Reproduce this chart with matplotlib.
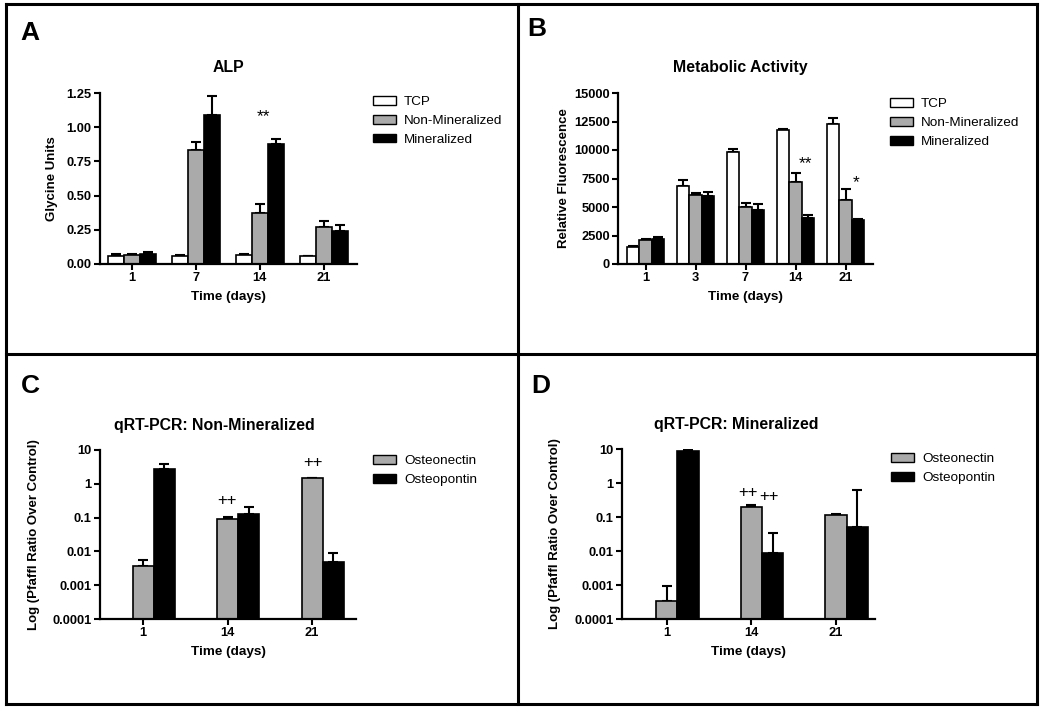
import matplotlib
matplotlib.use("Agg")
import matplotlib.pyplot as plt
import numpy as np
from matplotlib.patches import Patch
from matplotlib.lines import Line2D

plt.rcParams['font.family'] = ['Liberation Sans', 'DejaVu Sans']

# ---------------- data ----------------
alp_days = ["1", "7", "14", "21"]
alp_tcp = [0.060, 0.058, 0.063, 0.056]
alp_tcp_err = [0.012, 0.006, 0.012, 0.006]
alp_nonmin = [0.066, 0.835, 0.376, 0.268]
alp_nonmin_err = [0.004, 0.054, 0.066, 0.044]
alp_min = [0.071, 1.086, 0.879, 0.244]
alp_min_err = [0.014, 0.144, 0.037, 0.042]

met_days = ["1", "3", "7", "14", "21"]
met_tcp = [1490, 6870, 9795, 11725, 12310]
met_tcp_err = [120, 470, 290, 90, 500]
met_nonmin = [2076, 6050, 4970, 7164, 5585]
met_nonmin_err = [90, 180, 410, 790, 995]
met_min = [2220, 5965, 4766, 4064, 3889]
met_min_err = [150, 350, 530, 230, 90]

pcr_days = ["1", "14", "21"]
c_osteonectin = [0.0038, 0.089, 1.48]
c_osteonectin_err = [0.0018, 0.018, 0.0]
c_osteopontin = [2.7, 0.126, 0.005]
c_osteopontin_err = [1.1, 0.082, 0.0039]

d_osteonectin = [0.00035, 0.20, 0.117]
d_osteonectin_err = [0.00058, 0.03, 0.003]
d_osteopontin = [8.5, 0.0085, 0.051]
d_osteopontin_err = [1.2, 0.0255, 0.57]

log_ticks = [0.0001, 0.001, 0.01, 0.1, 1, 10]
log_tick_labels = ["0.0001", "0.001", "0.01", "0.1", "1", "10"]

GREY = '#aaaaaa'
W, H = 1050, 709
fig = plt.figure(figsize=(10.5, 7.09), dpi=100)


def ax_px(left, right, top, bottom):
    return fig.add_axes([left / W, 1 - bottom / H, (right - left) / W, (bottom - top) / H])


def style(ax):
    for s in ['top', 'right']:
        ax.spines[s].set_visible(False)
    for s in ['left', 'bottom']:
        ax.spines[s].set_linewidth(1.6)
    ax.tick_params(axis='both', which='major', direction='out', length=4, width=1.5,
                   labelsize=9.3, pad=2)
    ax.tick_params(axis='both', which='minor', length=0)
    for lab in ax.get_xticklabels() + ax.get_yticklabels():
        lab.set_fontweight('bold')


def bars(ax, x, vals, errs, color, bottom=0.0):
    vals = np.asarray(vals, float)
    ax.bar(x, vals - bottom, width=0.25, bottom=bottom, color=color,
           edgecolor='black', linewidth=1.2, zorder=2)
    ax.errorbar(x, vals, yerr=[np.zeros_like(vals), errs], fmt='none', ecolor='black',
                elinewidth=1.5, capsize=3.8, capthick=1.5, zorder=1)


# ---------------- A ----------------
axA = ax_px(100, 357, 93, 264)
x = np.arange(len(alp_days))
bars(axA, x - 0.25, alp_tcp, alp_tcp_err, 'white')
bars(axA, x, alp_nonmin, alp_nonmin_err, GREY)
bars(axA, x + 0.25, alp_min, alp_min_err, 'black')
axA.set_xlim(-0.5, 3.52)
axA.set_ylim(0, 1.25)
axA.set_yticks([0, 0.25, 0.5, 0.75, 1.0, 1.25])
axA.set_yticklabels(["0.00", "0.25", "0.50", "0.75", "1.00", "1.25"])
axA.set_xticks(x)
axA.set_xticklabels(alp_days)
axA.set_title("ALP", fontsize=11.4, fontweight='bold', pad=15)
axA.set_ylabel("Glycine Units", fontsize=9.5, fontweight='bold')
axA.set_xlabel("Time (days)", fontsize=9.7, fontweight='bold')
axA.yaxis.set_label_coords(-0.163, 0.5)
axA.xaxis.set_label_coords(0.5, -0.158)
axA.text(2.05, 1.045, "**", fontsize=12.5, ha='center', va='baseline')
style(axA)
axA.legend(handles=[Patch(facecolor='white', edgecolor='black', label='TCP'),
                    Patch(facecolor=GREY, edgecolor='black', label='Non-Mineralized'),
                    Patch(facecolor='black', edgecolor='black', label='Mineralized')],
           loc='upper left', bbox_to_anchor=(1.062, 0.98), frameon=False, fontsize=9.7,
           borderaxespad=0, borderpad=0, handlelength=1.7, handleheight=0.6,
           handletextpad=0.6, labelspacing=0.5)

# ---------------- B ----------------
axB = ax_px(618, 873, 93, 264)
x = np.arange(len(met_days))
bars(axB, x - 0.25, met_tcp, met_tcp_err, 'white')
bars(axB, x, met_nonmin, met_nonmin_err, GREY)
bars(axB, x + 0.25, met_min, met_min_err, 'black')
axB.set_xlim(-0.55, 4.55)
axB.set_ylim(0, 15000)
axB.set_yticks([0, 2500, 5000, 7500, 10000, 12500, 15000])
axB.set_xticks(x)
axB.set_xticklabels(met_days)
axB.set_title("Metabolic Activity", fontsize=11.4, fontweight='bold', pad=15, x=0.478)
axB.set_ylabel("Relative Fluorescence", fontsize=9.5, fontweight='bold')
axB.set_xlabel("Time (days)", fontsize=9.7, fontweight='bold')
axB.yaxis.set_label_coords(-0.188, 0.5)
axB.xaxis.set_label_coords(0.5, -0.158)
axB.text(3.2, 8370, "**", fontsize=12.5, ha='center', va='baseline')
axB.text(4.22, 6755, "*", fontsize=12.5, ha='center', va='baseline')
style(axB)
axB.legend(handles=[Patch(facecolor='white', edgecolor='black', label='TCP'),
                    Patch(facecolor=GREY, edgecolor='black', label='Non-Mineralized'),
                    Patch(facecolor='black', edgecolor='black', label='Mineralized')],
           loc='upper left', bbox_to_anchor=(1.067, 0.968), frameon=False, fontsize=9.7,
           borderaxespad=0, borderpad=0, handlelength=1.7, handleheight=0.6,
           handletextpad=0.6, labelspacing=0.5)


# ---------------- C / D ----------------
def pcr(ax, on, on_err, op, op_err, title, tx, xl):
    x = np.arange(len(pcr_days))
    ax.set_yscale('log')
    bars(ax, x, on, on_err, GREY, bottom=1e-4)
    bars(ax, x + 0.25, op, op_err, 'black', bottom=1e-4)
    ax.set_xlim(*xl)
    ax.set_ylim(1e-4, 10)
    ax.set_yticks(log_ticks)
    ax.set_yticklabels(log_tick_labels)
    ax.yaxis.set_minor_locator(matplotlib.ticker.NullLocator())
    ax.set_xticks(x)
    ax.set_xticklabels(pcr_days)
    ax.set_title(title, fontsize=11.4, fontweight='bold', pad=14.5, x=tx)
    ax.set_ylabel("Log (Pfaffl Ratio Over Control)", fontsize=9.5, fontweight='bold')
    ax.set_xlabel("Time (days)", fontsize=9.7, fontweight='bold')
    ax.xaxis.set_label_coords(0.5, -0.158)
    style(ax)


axC = ax_px(100, 356, 450, 619)
pcr(axC, c_osteonectin, c_osteonectin_err, c_osteopontin, c_osteopontin_err,
    "qRT-PCR: Non-Mineralized", 0.445, (-0.51, 2.52))
axC.yaxis.set_label_coords(-0.234, 0.5)
axC.text(0.99, 0.23, "++", fontsize=12, ha='center', va='baseline')
axC.text(2.015, 3.16, "++", fontsize=12, ha='center', va='baseline')
axC.legend(handles=[Patch(facecolor=GREY, edgecolor='black', label='Osteonectin'),
                    Patch(facecolor='black', edgecolor='black', label='Osteopontin')],
           loc='upper left', bbox_to_anchor=(1.066, 0.968), frameon=False, fontsize=9.7,
           borderaxespad=0, borderpad=0, handlelength=1.7, handleheight=0.6,
           handletextpad=0.6, labelspacing=0.5)

axD = ax_px(622, 875, 449, 619)
pcr(axD, d_osteonectin, d_osteonectin_err, d_osteopontin, d_osteopontin_err,
    "qRT-PCR: Mineralized", 0.45, (-0.53, 2.46))
axD.yaxis.set_label_coords(-0.241, 0.5)
axD.text(0.96, 0.4, "++", fontsize=12, ha='center', va='baseline')
axD.text(1.21, 0.286, "++", fontsize=12, ha='center', va='baseline')
axD.legend(handles=[Patch(facecolor=GREY, edgecolor='black', label='Osteonectin'),
                    Patch(facecolor='black', edgecolor='black', label='Osteopontin')],
           loc='upper left', bbox_to_anchor=(1.063, 0.974), frameon=False, fontsize=9.7,
           borderaxespad=0, borderpad=0, handlelength=1.7, handleheight=0.6,
           handletextpad=0.6, labelspacing=0.5)

# ---------------- panel letters & frame ----------------
for lab, (px, py) in zip("ABCD", [(30, 33), (537, 29), (30, 386), (541, 386)]):
    fig.text(px / W, 1 - py / H, lab, fontsize=19, fontweight='bold', ha='center', va='center')


def fline(x0, y0, x1, y1):
    fig.add_artist(Line2D([x0 / W, x1 / W], [1 - y0 / H, 1 - y1 / H],
                          transform=fig.transFigure, color='black', linewidth=2.2))


L, R, T, B = 6, 1037, 4, 704
fline(L, T, R, T)
fline(L, B, R, B)
fline(L, T, L, B)
fline(R, T, R, B)
fline(518, T, 518, B)
fline(L, 354, R, 354)

fig.savefig("out.png", dpi=100)
